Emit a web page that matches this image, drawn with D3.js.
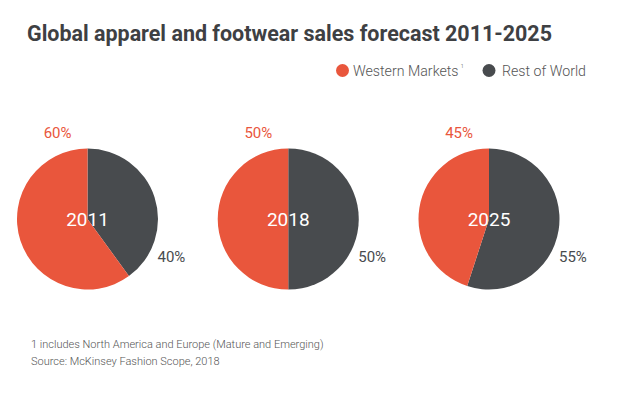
<!DOCTYPE html>
<html><head><meta charset="utf-8">
<script src="https://cdn.jsdelivr.net/npm/d3@7"></script>
<style>body{margin:0;background:#fff}svg{display:block}</style>
</head><body>
<svg id="c" width="620" height="394"></svg>
<script>
const years = ["2011", "2018", "2025"];
const seriesNames = ["Rest of World", "Western Markets"];
const restOfWorld = [40, 50, 55];
const westernMarkets = [60, 50, 45];
const colors = {"Western Markets": "#E9563C", "Rest of World": "#484B4E"};

const svg = d3.select("#c");
const font = "Roboto, 'Open Sans', sans-serif";

svg.append("text").attr("x", 27).attr("y", 41)
  .attr("font-family", font).attr("font-weight", 700).attr("font-size", 22)
  .attr("textLength", 525).attr("lengthAdjust", "spacingAndGlyphs")
  .attr("fill", "#3E4043").text("Global apparel and footwear sales forecast 2011-2025");

// legend
const leg = svg.append("g").attr("font-family", font).attr("font-size", 14.2).attr("font-weight", 300).attr("fill", "#555");
leg.append("circle").attr("cx", 342.5).attr("cy", 70.5).attr("r", 6.5).attr("fill", colors["Western Markets"]);
const wt = leg.append("text").attr("x", 353).attr("y", 76).text("Western Markets");
wt.append("tspan").attr("dx", 2).attr("dy", -8).attr("font-size", 6).text("1");
leg.append("circle").attr("cx", 489).attr("cy", 70.5).attr("r", 6.5).attr("fill", colors["Rest of World"]);
leg.append("text").attr("x", 502).attr("y", 76).text("Rest of World");

const x = d3.scalePoint().domain(years).range([87.5, 489]);
const r = 70.5;
const pie = d3.pie().sort(null).value(d => d.v);
const arc = d3.arc().innerRadius(0).outerRadius(r);

years.forEach((y, i) => {
  const cx = x(y), cy = 219;
  const data = [{k: "Rest of World", v: restOfWorld[i]}, {k: "Western Markets", v: westernMarkets[i]}];
  const g = svg.append("g").attr("transform", `translate(${cx},${cy})`);
  g.selectAll("path").data(pie(data)).join("path")
    .attr("d", arc).attr("fill", d => colors[d.data.k]);
  g.append("text").attr("x", 0).attr("y", 7).attr("text-anchor", "middle")
    .attr("font-family", font).attr("font-size", 19).attr("font-weight", 400).attr("fill", "#fff").text(y);
  g.append("text").attr("x", -16).attr("y", -81).attr("text-anchor", "end")
    .attr("font-family", font).attr("font-size", 15).attr("font-weight", 400).attr("fill", colors["Western Markets"])
    .text(westernMarkets[i] + "%");
  g.append("text").attr("x", 70).attr("y", 43).attr("text-anchor", "start")
    .attr("font-family", font).attr("font-size", 15).attr("font-weight", 400).attr("fill", "#484B4E")
    .text(restOfWorld[i] + "%");
});

const foot = svg.append("g").attr("font-family", font).attr("font-size", 11).attr("font-weight", 300).attr("fill", "#555");
foot.append("text").attr("x", 31).attr("y", 348).text("1 includes North America and Europe (Mature and Emerging)");
foot.append("text").attr("x", 31).attr("y", 365).text("Source: McKinsey Fashion Scope, 2018");
</script>
</body></html>
